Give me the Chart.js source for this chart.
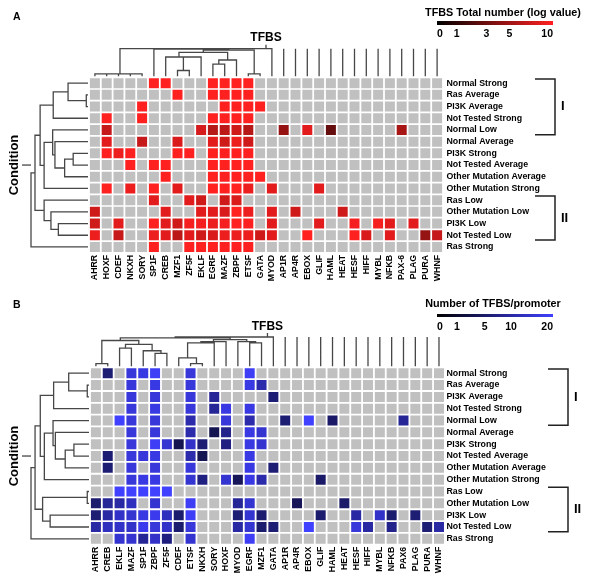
<!DOCTYPE html>
<html>
<head>
<meta charset="utf-8">
<script src="https://cdn.jsdelivr.net/npm/chart.js@4.4.1/dist/chart.umd.min.js"></script>
<style>
  html, body { margin: 0; padding: 0; background: #fff; }
  #fig { position: relative; width: 600px; height: 584px; overflow: hidden;
         font-family: 'Liberation Sans', Arial, sans-serif; font-weight: bold; color: #000; }
  #fig canvas { position: absolute; left: 0; }
  .lg { position: absolute; left: 0; top: 0; }
  .lg .t { position: absolute; white-space: nowrap; font-size: 10.8px; transform: translate(-50%, -50%); }
  .lg .bar { position: absolute; }
  .lg .n { position: absolute; white-space: nowrap; font-size: 10.5px; }
</style>
</head>
<body>
<div id="fig">
  <canvas id="chartA" width="600" height="292" style="top:0"></canvas>
  <canvas id="chartB" width="600" height="294" style="top:290px"></canvas>
  <div id="legendA" class="lg"></div>
  <div id="legendB" class="lg"></div>
</div>
<script>
const _ = null;

const rowLabels = ['Normal Strong', 'Ras Average', 'PI3K Average', 'Not Tested Strong', 'Normal Low',
  'Normal Average', 'PI3K Strong', 'Not Tested Average', 'Other Mutation Average', 'Other Mutation Strong',
  'Ras Low', 'Other Mutation Low', 'PI3K Low', 'Not Tested Low', 'Ras Strong'];

const colLabelsA = ['AHRR', 'HOXF', 'CDEF', 'NKXH', 'SORY', 'SP1F', 'CREB', 'MZF1', 'ZF5F', 'EKLF',
  'EGRF', 'MAZF', 'ZBPF', 'ETSF', 'GATA', 'MYOD', 'AP1R', 'AP4R', 'EBOX', 'GLIF',
  'HAML', 'HEAT', 'HESF', 'HIFF', 'MYBL', 'NFKB', 'PAX-6', 'PLAG', 'PURA', 'WHNF'];

const colLabelsB = ['AHRR', 'CREB', 'EKLF', 'MAZF', 'SP1F', 'ZBPF', 'ZF5F', 'CDEF', 'ETSF', 'NKXH',
  'SORY', 'HOXF', 'MYOD', 'EGRF', 'MZF1', 'GATA', 'AP1R', 'AP4R', 'EBOX', 'GLIF',
  'HAML', 'HEAT', 'HESF', 'HIFF', 'MYBL', 'NFKB', 'PAX6', 'PLAG', 'PURA', 'WHNF'];

// TFBS total number (log value), grey = none
const totalA = [
  [_, _, _, _, _, 10, 10, _, _, _, 10, 10, 10, 10, _, _, _, _, _, _, _, _, _, _, _, _, _, _, _, _],
  [_, _, _, _, _, _, _, 10, _, _, 10, 10, 10, 10, _, _, _, _, _, _, _, _, _, _, _, _, _, _, _, _],
  [_, _, _, _, 10, _, _, _, _, _, _, 10, 10, 10, 10, _, _, _, _, _, _, _, _, _, _, _, _, _, _, _],
  [_, 10, _, _, 10, _, _, _, _, _, 10, 10, 10, 10, _, _, _, _, _, _, _, _, _, _, _, _, _, _, _, _],
  [_, 7, _, _, _, _, _, _, _, 7.8, 6.2, 6.5, 7.5, 6.2, _, _, 4.6, _, 8.5, _, 2.8, _, _, _, _, _, 5.4, _, _, _],
  [_, 8.5, _, _, 7, _, _, 8, _, _, 8.5, 7.5, 9, 7.5, _, _, _, _, _, _, _, _, _, _, _, _, _, _, _, _],
  [_, 10, 9, 10, _, _, _, 10, 10, _, 10, 10, 10, 10, _, _, _, _, _, _, _, _, _, _, _, _, _, _, _, _],
  [_, _, _, 10, _, 10, 10, _, _, _, 10, 10, 10, 10, _, _, _, _, _, _, _, _, _, _, _, _, _, _, _, _],
  [_, _, _, _, _, _, 10, _, _, _, 10, 10, 10, 10, 10, _, _, _, _, _, _, _, _, _, _, _, _, _, _, _],
  [_, 10, _, 9, _, 10, _, 8.5, _, _, 10, 10, 10, 9, _, 8.5, _, _, _, 8.5, _, _, _, _, _, _, _, _, _, _],
  [_, _, _, _, _, 8.5, _, _, 8.5, 7.5, _, 7.5, 8, _, _, _, _, _, _, _, _, _, _, _, _, _, _, _, _, _],
  [7.5, _, _, _, _, _, 8.5, _, _, 8.5, 8.5, 8, 10, 9, _, 8.5, _, 7.5, _, _, _, 7.5, _, _, _, _, _, _, _, _],
  [7.5, _, 8.5, _, _, 10, 8.5, 7.5, 9.5, 9.5, 9, 9.5, 10, 10, _, 8.5, _, _, _, 8.5, _, _, 9.5, _, 9.5, 8.5, _, 8.5, _, _],
  [9, _, 7, _, _, 9, 8.5, 6.5, 8.5, 7.5, 8, 9, 9, 9, 7.5, 8.5, _, _, 10, _, _, _, 10, 8, _, 8.5, _, _, 4.6, 7],
  [_, _, _, _, _, 10, _, _, 10, 10, 10, 10, 10, 10, _, _, _, _, _, _, _, _, _, _, _, _, _, _, _, _]
];

// number of TFBS per promoter, grey = none
const perPromoterB = [
  [_, 6, _, 16, 17, 19, _, _, 16, _, _, _, _, 19, _, _, _, _, _, _, _, _, _, _, _, _, _, _, _, _],
  [_, _, _, 16, _, 17, _, _, 16, _, _, _, _, 17, 11, _, _, _, _, _, _, _, _, _, _, _, _, _, _, _],
  [_, _, _, 16, _, 16, _, _, 16, _, 9, _, _, _, _, 6, _, _, _, _, _, _, _, _, _, _, _, _, _, _],
  [_, _, _, 16, _, 17, _, _, 16, _, 9, 17, _, 17, _, _, _, _, _, _, _, _, _, _, _, _, _, _, _, _],
  [_, _, 20, 16, _, 16, _, _, 11, _, _, 16, _, 11, _, _, 6, _, 20, _, 5, _, _, _, _, _, 9, _, _, _],
  [_, _, _, 16, _, 16, _, _, 11, _, 3.5, 8, _, 17, 15, _, _, _, _, _, _, _, _, _, _, _, _, _, _, _],
  [_, _, _, 16, _, 19, 15, 3.5, 14, 6, _, 7, _, 17, 15, _, _, _, _, _, _, _, _, _, _, _, _, _, _, _],
  [_, 6, _, 16, 16, 17, _, _, 11, 3.5, _, _, _, 17, _, _, _, _, _, _, _, _, _, _, _, _, _, _, _, _],
  [_, 6, _, 16, _, 16, _, _, 16, _, _, _, _, 17, _, 6, _, _, _, _, _, _, _, _, _, _, _, _, _, _],
  [_, _, _, 16, 17, 17, _, _, 15, 7, _, 15, 4, 17, 11, _, _, _, _, 5, _, _, _, _, _, _, _, _, _, _],
  [_, _, 20, 20, 20, 20, 20, _, _, _, _, _, _, _, _, _, _, _, _, _, _, _, _, _, _, _, _, _, _, _],
  [5.5, 9, 10, 13, _, 15, _, _, 19, _, _, _, 9, 15, _, _, _, 4, _, _, _, 5, _, _, _, _, _, _, _, _],
  [6, 10, 14, 15, 17, 18, 13, 5.5, 19, _, _, _, 6, 15, 5.5, _, _, _, _, 5.5, _, _, 10, _, 14, 5.5, _, 6, _, _],
  [10, 13, 14, 14, 18, 16, 14, 5.5, 16, _, _, _, 10, 15, 5.5, 6, _, _, 20, _, _, _, 16, 10, _, 8, _, _, 6, 10],
  [_, _, 15, 15, 9, 14, 7, _, 15, _, _, _, _, 19, _, _, _, _, _, _, _, _, _, _, _, _, _, _, _, _]
];

// colour-bar ticks and where they sit along the bar (0..1)
const redTicks = [0, 1, 3, 5, 10];
const redStops = [0, 0.17, 0.427, 0.625, 1];
const blueTicks = [0, 1, 5, 10, 20];
const blueStops = [0, 0.172, 0.41, 0.638, 1];

// dendrograms: [childA, childB, height]; leaves are 0..n-1, merge k makes node n+k
const colTreeA = [
  [1, 2, 0.09], [0, 30, 0.09], [3, 4, 0.09], [31, 32, 0.09],
  [7, 8, 0.21], [34, 9, 0.70], [6, 35, 0.70],
  [10, 11, 0.44], [37, 12, 0.59], [36, 38, 0.87],
  [13, 14, 0.09], [39, 40, 0.95], [5, 41, 0.985], [33, 42, 1.0], [43, 15, 1.0]
];
const colTreeB = [
  [0, 1, 0.09], [5, 6, 0.44], [4, 31, 0.53], [2, 3, 0.62], [33, 32, 0.75], [30, 34, 0.88],
  [8, 9, 0.09], [7, 36, 0.29], [37, 10, 0.80], [38, 11, 0.84],
  [13, 14, 0.80], [12, 40, 0.84], [39, 41, 0.91], [35, 42, 0.97], [43, 15, 1.0]
];
const rowTreeA = [
  [1, 2, 0.03], [0, 15, 0.35], [16, 3, 0.61],
  [6, 7, 0.26], [18, 8, 0.41], [5, 19, 0.58], [4, 20, 0.62], [21, 9, 0.77], [17, 22, 0.84],
  [12, 13, 0.52], [11, 24, 0.65], [10, 25, 0.77], [23, 26, 0.93], [27, 14, 1.0]
];
const rowTreeB = [
  [1, 2, 0.03], [0, 15, 0.35], [16, 3, 0.61],
  [6, 7, 0.26], [18, 8, 0.41], [5, 19, 0.58], [4, 20, 0.62], [21, 9, 0.77], [17, 22, 0.84],
  [10, 11, 0.03], [12, 13, 0.67], [24, 25, 0.80], [23, 26, 0.93], [27, 14, 1.0]
];

const groups = [{ label: 'I', from: 0, to: 4 }, { label: 'II', from: 10, to: 13 }];

const FONT = "'Liberation Sans', Arial, sans-serif";
Chart.defaults.font.family = FONT;
Chart.defaults.color = '#000';

const RED = [255, 32, 32];
const BLUE = [64, 64, 255];

function barPos(v, ticks, stops) {
  for (let i = 1; i < ticks.length; i++) {
    if (v <= ticks[i]) {
      return stops[i - 1] + (v - ticks[i - 1]) / (ticks[i] - ticks[i - 1]) * (stops[i] - stops[i - 1]);
    }
  }
  return 1;
}
function rampColor(v, ticks, stops, rgb) {
  const p = barPos(v, ticks, stops);
  return 'rgb(' + rgb.map(c => Math.round(c * p)).join(',') + ')';
}

function dendroPoints(merges, n, toXY) {
  const pos = [], ht = [], used = new Set(), pts = [];
  for (let i = 0; i < n; i++) { pos[i] = i; ht[i] = 0; }
  let top = 0;
  merges.forEach(([a, b, h], k) => {
    pts.push(toXY(pos[a], ht[a]), toXY(pos[a], h), toXY(pos[b], h), toXY(pos[b], ht[b]), { x: null, y: null });
    pos[n + k] = (pos[a] + pos[b]) / 2;
    ht[n + k] = h;
    used.add(a); used.add(b);
    top = Math.max(top, h);
  });
  // leaves that never join hang from the top level
  for (let i = 0; i < n; i++) {
    if (!used.has(i)) pts.push(toXY(i, 0), toXY(i, top), { x: null, y: null });
  }
  return pts;
}

function buildChart(id, cfg) {
  const { colLabels, matrix, colTree, rowTree, paint, geo } = cfg;
  const nCols = colLabels.length, nRows = rowLabels.length;
  const canvas = document.getElementById(id);
  const W = canvas.width, H = canvas.height;
  const right = geo.gridLeft + nCols * geo.pitchX;
  const bottom = geo.gridTop + nRows * geo.pitchY;
  const xMin = -0.5 - (geo.gridLeft - geo.areaLeft) / geo.pitchX;
  const yMin = -0.5 - (geo.gridTop - geo.areaTop) / geo.pitchY;
  const colBase = -0.5 - 1 / geo.pitchY, colSpan = (geo.colRootPx - 1) / geo.pitchY;
  const rowBase = -0.5 - 1 / geo.pitchX, rowSpan = (geo.rowRootPx - 1) / geo.pitchX;

  const cells = [];
  matrix.forEach((row, r) => row.forEach((v, c) => cells.push({ x: c, y: r, v })));
  const colLines = dendroPoints(colTree, nCols, (p, h) => ({ x: p, y: colBase - h * colSpan }));
  const rowLines = dendroPoints(rowTree, nRows, (p, h) => ({ x: rowBase - h * rowSpan, y: p }));

  const lineStyle = { showLine: true, spanGaps: false, pointRadius: 0, borderColor: '#474747', borderWidth: 1.3, tension: 0 };

  const decor = {
    id: 'decor',
    afterDraw(chart) {
      const { ctx, scales: { x, y } } = chart;
      ctx.save();
      ctx.fillStyle = '#000';
      ctx.strokeStyle = '#474747';
      ctx.lineWidth = 1.3;

      ctx.font = 'bold 10.5px ' + FONT;
      ctx.textAlign = 'left';
      ctx.textBaseline = 'middle';
      ctx.fillText(geo.letter, 13, geo.letterY);

      // column title with its stem
      const cx = (x.getPixelForValue(-0.5) + x.getPixelForValue(nCols - 0.5)) / 2;
      const rootY = y.getPixelForValue(colBase - colSpan);
      ctx.font = 'bold 12px ' + FONT;
      ctx.textAlign = 'center';
      ctx.fillText('TFBS', cx, geo.titleY);
      ctx.beginPath(); ctx.moveTo(cx, rootY - 4); ctx.lineTo(cx, rootY); ctx.stroke();

      // row title with its stem
      const cy = (y.getPixelForValue(-0.5) + y.getPixelForValue(nRows - 0.5)) / 2;
      const rootX = x.getPixelForValue(rowBase - rowSpan);
      ctx.beginPath(); ctx.moveTo(rootX - 9, cy); ctx.lineTo(rootX, cy); ctx.stroke();
      ctx.save();
      ctx.translate(14, cy);
      ctx.rotate(-Math.PI / 2);
      ctx.font = 'bold 13px ' + FONT;
      ctx.fillText('Condition', 0, 0);
      ctx.restore();

      // group brackets
      ctx.strokeStyle = '#222';
      ctx.lineWidth = 1.5;
      ctx.font = 'bold 13px ' + FONT;
      ctx.textAlign = 'left';
      groups.forEach(g => {
        const y0 = y.getPixelForValue(g.from - 0.35), y1 = y.getPixelForValue(g.to + 0.4);
        const bx = geo.bracketX;
        ctx.beginPath();
        ctx.moveTo(bx, y0); ctx.lineTo(bx + 20, y0); ctx.lineTo(bx + 20, y1); ctx.lineTo(bx, y1);
        ctx.stroke();
        ctx.fillText(g.label, bx + 26, (y0 + y1) / 2);
      });
      ctx.restore();
    }
  };

  return new Chart(canvas, {
    type: 'scatter',
    data: {
      datasets: [
        {
          data: cells,
          pointStyle: 'rect',
          pointRadius: 10 / (2 * Math.SQRT1_2),
          pointBorderWidth: 0,
          borderWidth: 0,
          backgroundColor: c => (c.raw && c.raw.v != null) ? paint(c.raw.v) : '#c0c0c0'
        },
        { data: colLines, ...lineStyle },
        { data: rowLines, ...lineStyle }
      ]
    },
    options: {
      responsive: false,
      animation: false,
      events: [],
      layout: { padding: { left: geo.areaLeft, top: geo.areaTop, right: 0, bottom: 0 } },
      plugins: { legend: { display: false }, tooltip: { enabled: false } },
      scales: {
        x: {
          type: 'linear', position: 'bottom', min: xMin, max: nCols - 0.5, bounds: 'data',
          grid: { display: false, drawTicks: false }, border: { display: false },
          afterBuildTicks: s => { s.ticks = colLabels.map((_, i) => ({ value: i })); },
          afterFit: s => { s.height = H - bottom; },
          ticks: {
            autoSkip: false, minRotation: 90, maxRotation: 90, padding: 2,
            font: { size: 8.8, weight: 'bold' }, callback: v => colLabels[v]
          }
        },
        y: {
          type: 'linear', position: 'right', reverse: true, min: yMin, max: nRows - 0.5, bounds: 'data',
          grid: { display: false, drawTicks: false }, border: { display: false },
          afterBuildTicks: s => { s.ticks = rowLabels.map((_, i) => ({ value: i })); },
          afterFit: s => { s.width = W - right; },
          ticks: {
            autoSkip: false, padding: geo.labelPad,
            font: { size: 8.8, weight: 'bold' }, callback: v => rowLabels[v]
          }
        }
      }
    },
    plugins: [decor]
  });
}

function buildLegend(id, title, ticks, stops, rgb, lay) {
  const el = document.getElementById(id);
  const t = document.createElement('div');
  t.className = 't';
  t.textContent = title;
  t.style.left = lay.titleX + 'px';
  t.style.top = lay.titleY + 'px';
  el.appendChild(t);
  const bar = document.createElement('div');
  bar.className = 'bar';
  Object.assign(bar.style, {
    left: lay.barX + 'px', top: lay.barY + 'px', width: lay.barW + 'px', height: lay.barH + 'px',
    background: 'linear-gradient(to right, #000, rgb(' + rgb.join(',') + '))'
  });
  el.appendChild(bar);
  ticks.forEach((v, i) => {
    const n = document.createElement('div');
    n.className = 'n';
    n.textContent = v;
    const px = lay.barX + stops[i] * lay.barW;
    n.style.left = px + 'px';
    n.style.top = lay.numY + 'px';
    const tx = i === 0 ? '0' : (i === ticks.length - 1 ? '-100%' : '-50%');
    n.style.transform = 'translate(' + tx + ', -50%)';
    el.appendChild(n);
  });
}

buildChart('chartA', {
  colLabels: colLabelsA, matrix: totalA, colTree: colTreeA, rowTree: rowTreeA,
  paint: v => rampColor(v, redTicks, redStops, RED),
  geo: { gridLeft: 89, pitchX: 11.8, gridTop: 77.3, pitchY: 11.7, areaLeft: 26, areaTop: 42,
         colRootPx: 28.6, rowRootPx: 58, labelPad: 3.5, letter: 'A', letterY: 17, titleY: 38, bracketX: 535 }
});
buildChart('chartB', {
  colLabels: colLabelsB, matrix: perPromoterB, colTree: colTreeB, rowTree: rowTreeB,
  paint: v => rampColor(v, blueTicks, blueStops, BLUE),
  geo: { gridLeft: 90, pitchX: 11.83, gridTop: 77.3, pitchY: 11.83, areaLeft: 26, areaTop: 42,
         colRootPx: 30.3, rowRootPx: 59, labelPad: 1.5, letter: 'B', letterY: 14.7, titleY: 36.3, bracketX: 548 }
});

buildLegend('legendA', 'TFBS Total number (log value)', redTicks, redStops, RED,
  { titleX: 503, titleY: 12, barX: 437, barY: 21, barW: 116, barH: 3.5, numY: 33.4 });
buildLegend('legendB', 'Number of TFBS/promoter', blueTicks, blueStops, BLUE,
  { titleX: 493, titleY: 302.8, barX: 437, barY: 313.5, barW: 116, barH: 3, numY: 325.6 });
</script>
</body>
</html>
